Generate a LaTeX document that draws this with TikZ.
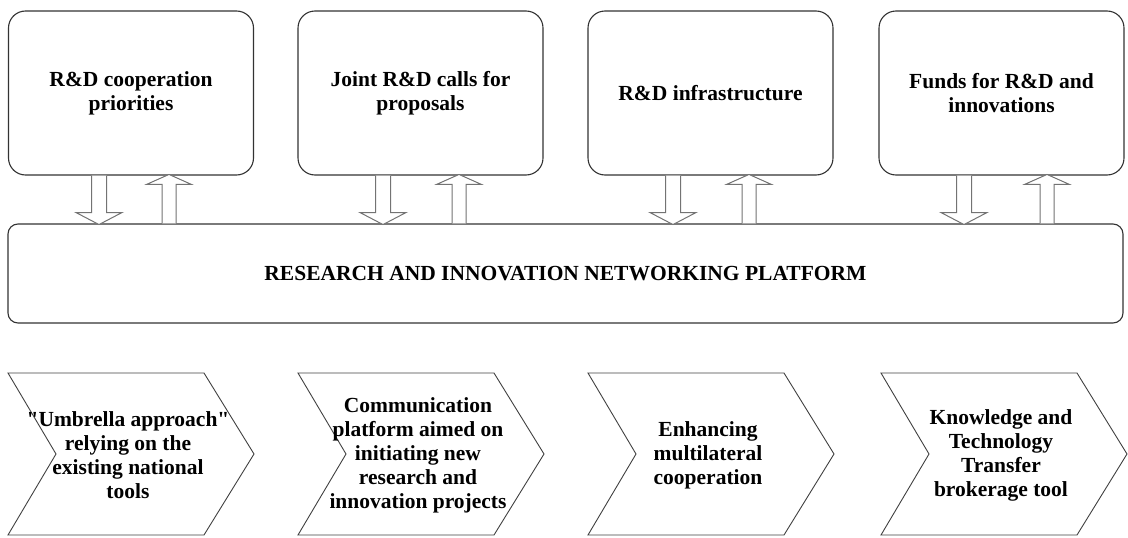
\documentclass[tikz,border=0pt]{standalone}
\usepackage{fontspec}
\setmainfont{Liberation Serif}
\usetikzlibrary{calc}

% hollow block arrows between the resource boxes and the platform
\newcommand{\arrowdown}[1]{%
  \draw[blockarrow] ($(#1)+(-7.5,0)$) -- ++(0,37) -- ++(-15.5,0) -- ++(23,12)
    -- ++(23,-12) -- ++(-15.5,0) -- ++(0,-37);}
\newcommand{\arrowup}[1]{%
  \draw[blockarrow] ($(#1)+(-7,0)$) -- ++(0,-39) -- ++(-15.5,0) -- ++(22.5,-10)
    -- ++(22.5,10) -- ++(-15.5,0) -- ++(0,39);}

\begin{document}
\begin{tikzpicture}[x=1pt,y=-1pt,
  txt/.style={font=\bfseries\fontsize{21.5}{24}\selectfont, align=center, text=black},
  topbox/.style={txt, draw=black!80, line width=1.1pt, rounded corners=17pt,
    minimum width=245pt, minimum height=164pt, inner sep=0pt},
  platform/.style={txt, draw=black!80, line width=1.1pt, rounded corners=10pt,
    minimum width=1115pt, minimum height=99pt, inner sep=0pt},
  chevron/.style={draw=black!75, line width=0.9pt, line join=miter},
  blockarrow/.style={draw=black!55, line width=1pt, fill=white, line join=miter}]

\useasboundingbox (0,0) rectangle (1128,538);

% resource boxes
\node[topbox] (b1) at (131,93)    {R\&D cooperation\\priorities};
\node[topbox] (b2) at (420.5,93)  {Joint R\&D calls for\\proposals};
\node[topbox] (b3) at (710.5,93)  {R\&D infrastructure};
\node[topbox] (b4) at (1001.5,93) {Funds for R\&D and\\innovations};

% networking platform
\node[platform] (plat) at (565.5,273.5) {RESEARCH AND INNOVATION NETWORKING PLATFORM};

% arrow axes
\coordinate (d1) at (99,0);   \coordinate (u1) at (169,0);
\coordinate (d2) at (383,0);  \coordinate (u2) at (459,0);
\coordinate (d3) at (673,0);  \coordinate (u3) at (749,0);
\coordinate (d4) at (964,0);  \coordinate (u4) at (1047,0);

\foreach \i in {1,2,3,4}{
  \arrowdown{d\i |- b\i.south}
  \arrowup{u\i |- plat.north}
}

% chevrons
\foreach \L/\name in {8/c1, 298/c2, 588/c3, 881/c4}{
  \draw[chevron] (\L,373) -- (\L+196,373) -- (\L+246,454) -- (\L+196,535)
    -- (\L,535) -- (\L+48,454) -- cycle;
  \coordinate (\name) at (\L+120,455);
}
\node[txt] (t1) at (c1) {\textquotedbl Umbrella approach\textquotedbl\\relying on the\\existing national\\tools};
\node[txt] (t2) at (c2) {Communication\\platform aimed on\\initiating new\\research and\\innovation projects};
\node[txt] (t3) at (c3) {Enhancing\\multilateral\\cooperation};
\node[txt] (t4) at (c4) {Knowledge and\\Technology\\Transfer\\brokerage tool};

\end{tikzpicture}
\end{document}
